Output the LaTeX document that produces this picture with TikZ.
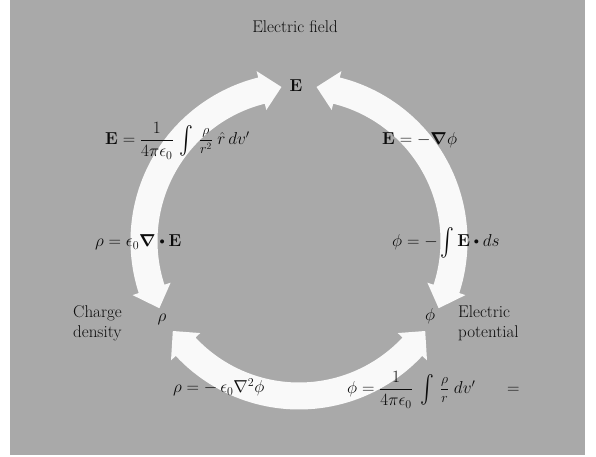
\documentclass[tikz,border=0pt]{standalone}
\usepackage{amsmath}
\usepackage{graphicx}
\definecolor{bg}{RGB}{169,169,169}
\definecolor{arw}{RGB}{249,249,249}
\definecolor{ink}{RGB}{12,12,12}
\newcommand{\bint}{\mathop{\vcenter{\hbox{\scalebox{1.2}[1.6]{$\int$}}}}\nolimits}
\newcommand{\sbul}{\mathbin{\vcenter{\hbox{\scalebox{0.6}{$\bullet$}}}}}
\newcommand{\mfrac}[2]{\vcenter{\hbox{\scalebox{0.8}{$\dfrac{#1}{#2}$}}}}
\tikzset{
  lbl/.style={text=ink, inner sep=0pt, font=\fontsize{17}{20}\selectfont},
  eqn/.style={lbl, anchor=base west},
  fatarrow/.style={fill=arw, draw=none}
}
% #1 tip angle, #2 base angle, #3 base angle, #4 tip angle
\newcommand{\fatarc}[4]{%
  \fill[fatarrow] (#1:155) -- (#2:175) -- (#2:168.5)
    arc[start angle=#2, end angle=#3, radius=168.5]
    -- (#3:175) -- (#4:155) -- (#3:135) -- (#3:141.5)
    arc[start angle=#3, end angle=#2, radius=141.5]
    -- (#2:135) -- cycle;}
\begin{document}
\begin{tikzpicture}[x=1pt, y=1pt]
  \useasboundingbox (0,0) rectangle (596,457);
  \fill[bg] (10,2) rectangle (585,457);
  \coordinate (ctr) at (299,216);
  % the three fat curved arrows
  \begin{scope}[shift={(ctr)}]
    \fatarc{96.5}{104}{198}{205.7}
    \fatarc{83.5}{76}{-18}{-25.7}
    \fatarc{215.5}{223}{317}{324.5}
  \end{scope}
  % labels at the vertices
  \node[lbl, anchor=base] (title) at (295,424) {Electric field};
  \node[lbl, anchor=base] (E) at (296,365) {$\mathbf{E}$};
  \node[lbl, anchor=base] (rho) at (162,135) {$\rho$};
  \node[lbl, anchor=base] (phi) at (430,136) {$\phi$};
  \node[lbl, anchor=base west] (cd) at (73,139)
    {\begin{tabular}[t]{@{}l@{}}Charge\\density\end{tabular}};
  \node[lbl, anchor=base west] (ep) at (458,139)
    {\begin{tabular}[t]{@{}l@{}}Electric\\potential\end{tabular}};
  % relations
  \node[eqn] (eq1) at (105,312)
    {$\mathbf{E}=\dfrac{1}{4\pi\epsilon_0}\,\bint\,\mfrac{\rho}{r^{2}}\;\hat{r}\,dv'$};
  \node[eqn] (eq2) at (382,312) {$\mathbf{E}=-\boldsymbol{\nabla}\phi$};
  \node[eqn] (eq3) at (95,210) {$\rho=\epsilon_0\boldsymbol{\nabla}\sbul\mathbf{E}$};
  \node[eqn] (eq4) at (392,210) {$\phi=-\bint\mathbf{E}\sbul ds$};
  \node[eqn] (eq5) at (173,64) {$\rho=-\,\epsilon_0\nabla^2\phi$};
  \node[eqn] (eq6) at (347,63)
    {$\phi=\dfrac{1}{4\pi\epsilon_0}\;\bint\,\mfrac{\rho}{r}\;dv'$};
  \node[eqn] (eq7) at (507,63) {$=$};
\end{tikzpicture}
\end{document}
